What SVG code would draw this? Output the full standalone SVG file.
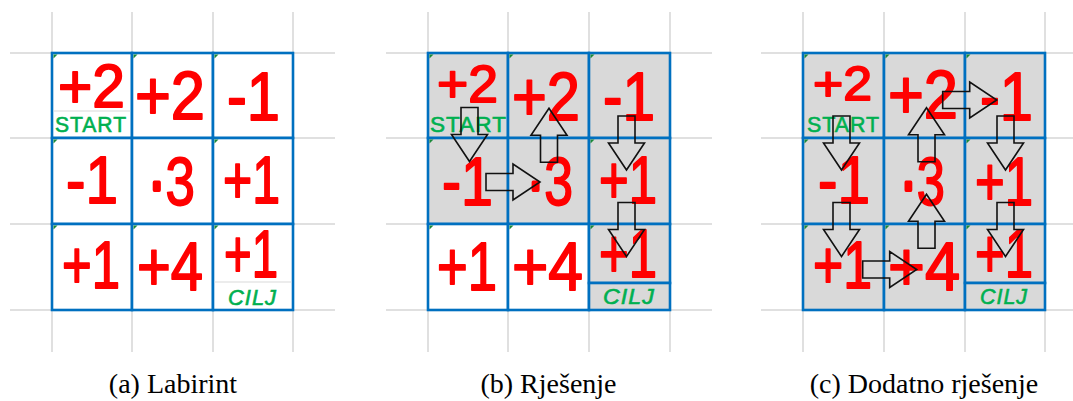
<svg xmlns="http://www.w3.org/2000/svg" xmlns:xlink="http://www.w3.org/1999/xlink" width="1073" height="401" viewBox="0 0 1073 401">
<style>
.bg{fill:#ffffff}
.gl{stroke:#d6d6d6;stroke-width:1.5;fill:none}
.cw{fill:#ffffff;stroke:#0070c0;stroke-width:2.6}
.cg{fill:#d9d9d9;stroke:#0070c0;stroke-width:2.6}
.sep{stroke:#d9d9d9;stroke-width:1.2}
.num{font-family:"Liberation Sans",Arial,sans-serif;fill:#ff0000;stroke:#ff0000;stroke-width:1.8;stroke-linejoin:round;text-anchor:middle}
.dot{stroke-width:4}
.lbl{font-family:"Liberation Sans",Arial,sans-serif;font-size:22px;fill:#00b050;stroke:#00b050;stroke-width:0.6;text-anchor:middle;letter-spacing:1px}
.tri{fill:#1b8a3a}
.arr{fill:none;stroke:#111111;stroke-width:1.6;stroke-linejoin:miter}
.cap{font-family:"Liberation Serif","Times New Roman",serif;font-size:28px;fill:#000000;text-anchor:middle}
</style>
<defs>
<path id="ad" d="M-8.5,0 L8.5,0 L8.5,27 L18,27 L0,54 L-18,27 L-8.5,27 Z"/>
<path id="corner" d="M0,0 L4,0 L0,4 Z"/>
</defs>
<rect class="bg" x="0" y="0" width="1073" height="401"/>

<g id="background-grid">
<path class="gl" d="M52,12V352M132,12V352M213,12V352M293,12V352M10,53H335M10,138H335M10,224H335M10,310H335"/>
<path class="gl" d="M428,12V352M508,12V352M589,12V352M670,12V352M386,53H712M386,138H712M386,224H712M386,310H712"/>
<path class="gl" d="M803,12V352M884,12V352M965,12V352M1045,12V352M761,53H1073M761,138H1073M761,224H1073M761,310H1073"/>
</g>

<!-- Panel a -->
<g id="a-r0c0"><rect class="cw" x="52" y="53" width="80" height="85"/><line class="sep" x1="53.5" y1="111" x2="130.5" y2="111"/><use href="#corner" class="tri" x="53.5" y="54.5"/><text class="num" x="91.5" y="107" font-size="62" textLength="67" lengthAdjust="spacingAndGlyphs">+2</text><text class="lbl" x="91" y="132" textLength="72" lengthAdjust="spacingAndGlyphs">START</text></g>
<g id="a-r0c1"><rect class="cw" x="132" y="53" width="81" height="85"/><use href="#corner" class="tri" x="133.5" y="54.5"/><text class="num" x="170" y="119" font-size="68" textLength="70" lengthAdjust="spacingAndGlyphs">+2</text></g>
<g id="a-r0c2"><rect class="cw" x="213" y="53" width="80" height="85"/><use href="#corner" class="tri" x="214.5" y="54.5"/><text class="num" x="253.5" y="120" font-size="68" textLength="53" lengthAdjust="spacingAndGlyphs">-1</text></g>
<g id="a-r1c0"><rect class="cw" x="52" y="138" width="80" height="86"/><use href="#corner" class="tri" x="53.5" y="139.5"/><text class="num" x="92" y="203" font-size="66" textLength="52" lengthAdjust="spacingAndGlyphs">-1</text></g>
<g id="a-r1c1"><rect class="cw" x="132" y="138" width="81" height="86"/><text class="num" x="171.5" y="205" font-size="68" textLength="47" lengthAdjust="spacingAndGlyphs"><tspan class="dot">·</tspan>3</text></g>
<g id="a-r1c2"><rect class="cw" x="213" y="138" width="80" height="86"/><use href="#corner" class="tri" x="214.5" y="139.5"/><text class="num" x="251.5" y="203" font-size="66" textLength="57" lengthAdjust="spacingAndGlyphs">+1</text></g>
<g id="a-r2c0"><rect class="cw" x="52" y="224" width="80" height="86"/><use href="#corner" class="tri" x="53.5" y="225.5"/><text class="num" x="91" y="288" font-size="66" textLength="58" lengthAdjust="spacingAndGlyphs">+1</text></g>
<g id="a-r2c1"><rect class="cw" x="132" y="224" width="81" height="86"/><use href="#corner" class="tri" x="133.5" y="225.5"/><text class="num" x="170" y="290" font-size="68" textLength="66" lengthAdjust="spacingAndGlyphs">+4</text></g>
<g id="a-r2c2"><rect class="cw" x="213" y="224" width="80" height="86"/><line class="sep" x1="214.5" y1="282" x2="291.5" y2="282"/><use href="#corner" class="tri" x="214.5" y="225.5"/><text class="num" x="251" y="277" font-size="66" textLength="54" lengthAdjust="spacingAndGlyphs">+1</text><text class="lbl" x="252.5" y="305" textLength="49" lengthAdjust="spacingAndGlyphs" font-style="italic">CILJ</text></g>

<!-- Panel b -->
<g id="b-r0c0"><rect class="cg" x="428" y="53" width="80" height="85"/><use href="#corner" class="tri" x="429.5" y="54.5"/><text class="num" x="467.5" y="102" font-size="52" textLength="61" lengthAdjust="spacingAndGlyphs">+2</text><text class="lbl" x="468.5" y="132" textLength="77" lengthAdjust="spacingAndGlyphs">START</text></g>
<g id="b-r0c1"><rect class="cg" x="508" y="53" width="81" height="85"/><use href="#corner" class="tri" x="509.5" y="54.5"/><text class="num" x="546" y="120" font-size="68" textLength="68" lengthAdjust="spacingAndGlyphs">+2</text></g>
<g id="b-r0c2"><rect class="cg" x="589" y="53" width="81" height="85"/><use href="#corner" class="tri" x="590.5" y="54.5"/><text class="num" x="629" y="120" font-size="68" textLength="52" lengthAdjust="spacingAndGlyphs">-1</text></g>
<g id="b-r1c0"><rect class="cg" x="428" y="138" width="80" height="86"/><use href="#corner" class="tri" x="429.5" y="139.5"/><text class="num" x="467.5" y="205" font-size="68" textLength="51" lengthAdjust="spacingAndGlyphs">-1</text></g>
<g id="b-r1c1"><rect class="cg" x="508" y="138" width="81" height="86"/><text class="num" x="550" y="205" font-size="68" textLength="46" lengthAdjust="spacingAndGlyphs"><tspan class="dot">·</tspan>3</text></g>
<g id="b-r1c2"><rect class="cg" x="589" y="138" width="81" height="86"/><use href="#corner" class="tri" x="590.5" y="139.5"/><text class="num" x="628" y="203" font-size="66" textLength="58" lengthAdjust="spacingAndGlyphs">+1</text></g>
<g id="b-r2c0"><rect class="cw" x="428" y="224" width="80" height="86"/><use href="#corner" class="tri" x="429.5" y="225.5"/><text class="num" x="467" y="290" font-size="68" textLength="60" lengthAdjust="spacingAndGlyphs">+1</text></g>
<g id="b-r2c1"><rect class="cw" x="508" y="224" width="81" height="86"/><use href="#corner" class="tri" x="509.5" y="225.5"/><text class="num" x="547.5" y="290" font-size="68" textLength="71" lengthAdjust="spacingAndGlyphs">+4</text></g>
<g id="b-r2c2"><rect class="cg" x="589" y="224" width="81" height="59"/><rect class="cg" x="589" y="283" width="81" height="27"/><use href="#corner" class="tri" x="590.5" y="225.5"/><text class="num" x="628" y="277" font-size="68" textLength="58" lengthAdjust="spacingAndGlyphs">+1</text><text class="lbl" x="629" y="304" textLength="52" lengthAdjust="spacingAndGlyphs" font-style="italic">CILJ</text></g>

<!-- Panel c -->
<g id="c-r0c0"><rect class="cg" x="803" y="53" width="81" height="85"/><use href="#corner" class="tri" x="804.5" y="54.5"/><text class="num" x="842.5" y="100" font-size="48" textLength="59" lengthAdjust="spacingAndGlyphs">+2</text><text class="lbl" x="843.5" y="132" textLength="73" lengthAdjust="spacingAndGlyphs">START</text></g>
<g id="c-r0c1"><rect class="cg" x="884" y="53" width="81" height="85"/><use href="#corner" class="tri" x="885.5" y="54.5"/><text class="num" x="923" y="118" font-size="68" textLength="70" lengthAdjust="spacingAndGlyphs">+2</text></g>
<g id="c-r0c2"><rect class="cg" x="965" y="53" width="80" height="85"/><use href="#corner" class="tri" x="966.5" y="54.5"/><text class="num" x="1006.5" y="120" font-size="68" textLength="53" lengthAdjust="spacingAndGlyphs">-1</text></g>
<g id="c-r1c0"><rect class="cg" x="803" y="138" width="81" height="86"/><use href="#corner" class="tri" x="804.5" y="139.5"/><text class="num" x="844" y="203" font-size="66" textLength="52" lengthAdjust="spacingAndGlyphs">-1</text></g>
<g id="c-r1c1"><rect class="cg" x="884" y="138" width="81" height="86"/><text class="num" x="922.5" y="205" font-size="68" textLength="45" lengthAdjust="spacingAndGlyphs"><tspan class="dot">·</tspan>3</text></g>
<g id="c-r1c2"><rect class="cg" x="965" y="138" width="80" height="86"/><use href="#corner" class="tri" x="966.5" y="139.5"/><text class="num" x="1004" y="205" font-size="68" textLength="58" lengthAdjust="spacingAndGlyphs">+1</text></g>
<g id="c-r2c0"><rect class="cg" x="803" y="224" width="81" height="86"/><use href="#corner" class="tri" x="804.5" y="225.5"/><text class="num" x="842.5" y="288" font-size="66" textLength="59" lengthAdjust="spacingAndGlyphs">+1</text></g>
<g id="c-r2c1"><rect class="cg" x="884" y="224" width="81" height="86"/><use href="#corner" class="tri" x="885.5" y="225.5"/><text class="num" x="924" y="290" font-size="68" textLength="72" lengthAdjust="spacingAndGlyphs">+4</text></g>
<g id="c-r2c2"><rect class="cg" x="965" y="224" width="80" height="59"/><rect class="cg" x="965" y="283" width="80" height="27"/><use href="#corner" class="tri" x="966.5" y="225.5"/><text class="num" x="1004" y="277" font-size="68" textLength="58" lengthAdjust="spacingAndGlyphs">+1</text><text class="lbl" x="1004" y="304" textLength="48" lengthAdjust="spacingAndGlyphs" font-style="italic">CILJ</text></g>

<g id="connectors">
<use href="#ad" class="arr" transform="translate(469.5,107.5)"/>
<use href="#ad" class="arr" transform="translate(486,182) rotate(-90)"/>
<use href="#ad" class="arr" transform="translate(549,162.3) rotate(180)"/>
<use href="#ad" class="arr" transform="translate(626.5,116)"/>
<use href="#ad" class="arr" transform="translate(626.5,202.5)"/>

<use href="#ad" class="arr" transform="translate(841.5,116)"/>
<use href="#ad" class="arr" transform="translate(841.5,202.5)"/>
<use href="#ad" class="arr" transform="translate(862.7,269.5) rotate(-90)"/>
<use href="#ad" class="arr" transform="translate(926.5,248.3) rotate(180)"/>
<use href="#ad" class="arr" transform="translate(926.5,161.7) rotate(180)"/>
<use href="#ad" class="arr" transform="translate(942.7,100) rotate(-90)"/>
<use href="#ad" class="arr" transform="translate(1005.5,116)"/>
<use href="#ad" class="arr" transform="translate(1005.5,202.5)"/>
</g>

<g id="captions">
<text class="cap" x="173" y="393">(a) Labirint</text>
<text class="cap" x="548.5" y="393">(b) Rješenje</text>
<text class="cap" x="924" y="393">(c) Dodatno rješenje</text>
</g>
</svg>
